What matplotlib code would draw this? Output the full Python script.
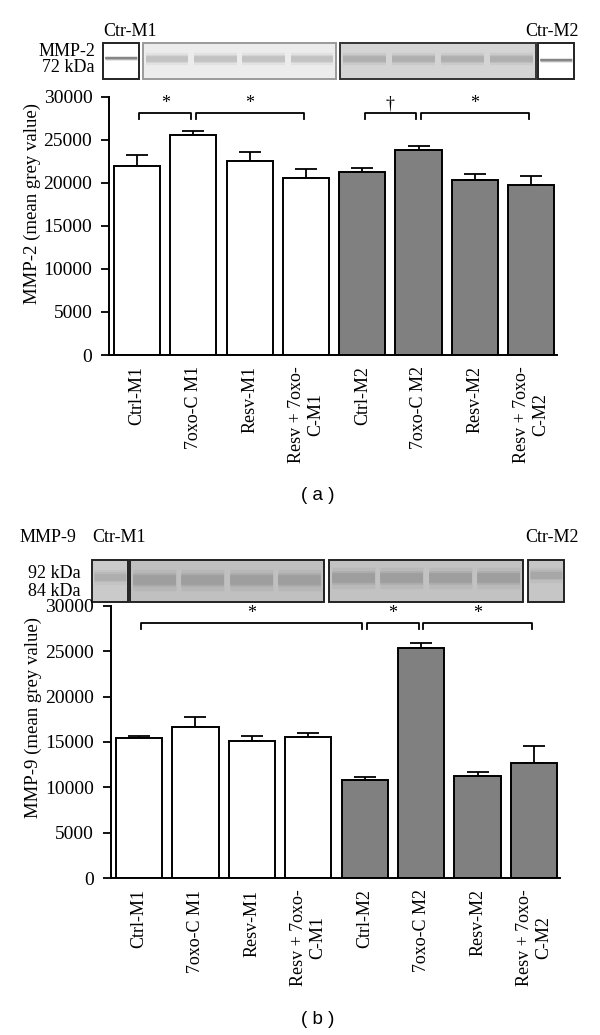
"""
MMP-2 / MMP-9 densitometry, two bar panels with blot strips on top
"""

import matplotlib
matplotlib.use('Agg')
import matplotlib.pyplot as plt
from matplotlib.patches import Rectangle

groups = ['Ctrl-M1', '7oxo-C M1', 'Resv-M1', 'Resv + 7oxo-\nC-M1',
          'Ctrl-M2', '7oxo-C M2', 'Resv-M2', 'Resv + 7oxo-\nC-M2']
mmp2 = [22000, 25600, 22500, 20500, 21300, 23800, 20300, 19700]
mmp2_err = [1200, 450, 1100, 1050, 450, 500, 700, 1100]
mmp9 = [15400, 16600, 15100, 15600, 10800, 25300, 11300, 12700]
mmp9_err = [300, 1100, 600, 370, 370, 550, 440, 1900]
sig_a = [(0, 1, '*'), (1, 3, '*'), (4, 5, '\u2020'), (5, 7, '*')]
sig_b = [(0, 4, '*'), (4, 5, '*'), (5, 7, '*')]

colors = ['white'] * 4 + ['#808080'] * 4
serif = 'Liberation Serif'
plt.rcParams['font.family'] = serif
plt.rcParams['font.size'] = 13

fig = plt.figure(figsize=(6, 10.35), dpi=100)

# overlay in pixel coords for the blot strips and their labels
ov = fig.add_axes([0, 0, 1, 1])
ov.set_xlim(0, 600)
ov.set_ylim(1035, 0)
ov.axis('off')


def blot(x0, x1, y0, y1, fill, edge, band_y, band_col, lanes, band_w):
    ov.add_patch(Rectangle((x0, y0), x1 - x0, y1 - y0, facecolor=fill,
                           edgecolor=edge, linewidth=1.4))
    step = (x1 - x0) / lanes
    for k in range(lanes):
        a = x0 + k * step + step * 0.06
        b = x0 + (k + 1) * step - step * 0.06
        for w, al in [(band_w * 2.2, 0.2), (band_w * 1.4, 0.35), (band_w, 0.6)]:
            ov.plot([a, b], [band_y, band_y], color=band_col, lw=w, alpha=al,
                    solid_capstyle='butt')


# panel (a) strip
blot(103, 139, 43, 79, 'white', '#222222', 58, '#666666', 1, 1.5)
blot(143, 336, 43, 79, '#ececec', '#9a9a9a', 59, '#b8b8b8', 4, 4)
blot(340, 536, 43, 79, '#d4d4d4', '#333333', 59, '#a6a6a6', 4, 4)
blot(538, 574, 43, 79, 'white', '#222222', 60, '#666666', 1, 1.5)
ov.text(95, 52, 'MMP-2', ha='right', va='center')
ov.text(95, 68, '72 kDa', ha='right', va='center')
ov.text(103, 32, 'Ctr-M1', ha='left', va='center')
ov.text(579, 32, 'Ctr-M2', ha='right', va='center')

# panel (b) strip
blot(92, 128, 560, 602, '#cacaca', '#222222', 577, '#a8a8a8', 1, 5)
blot(130, 324, 560, 602, '#c0c0c0', '#222222', 580, '#969696', 4, 7)
blot(329, 523, 560, 602, '#c2c2c2', '#222222', 578, '#969696', 4, 7)
blot(528, 564, 560, 602, '#c6c6c6', '#222222', 575, '#a0a0a0', 1, 5)
ov.text(76, 538, 'MMP-9', ha='right', va='center')
ov.text(92, 538, 'Ctr-M1', ha='left', va='center')
ov.text(81, 574, '92 kDa', ha='right', va='center')
ov.text(81, 592, '84 kDa', ha='right', va='center')
ov.text(579, 538, 'Ctr-M2', ha='right', va='center')


def panel(rect, vals, errs, sig, ylabel, label_xy, tag, tag_y):
    ax = fig.add_axes(rect)
    ax.set_facecolor('none')
    x = list(range(len(vals)))
    ax.errorbar(x, vals, yerr=[[0] * len(errs), errs], fmt='none',
                ecolor='black', elinewidth=1.3, capsize=8, capthick=1.3, zorder=1)
    ax.bar(x, vals, width=0.82, color=colors, edgecolor='black', linewidth=1.4, zorder=2)
    ax.set_xlim(-0.5, 7.46)
    ax.set_ylim(0, 30000)
    ax.set_yticks(range(0, 30001, 5000))
    ax.set_xticks(x)
    ax.set_xticklabels(groups, rotation=90, ha='center', va='top',
                       multialignment='center')
    ax.tick_params(axis='x', length=0, pad=8)
    ax.tick_params(axis='y', direction='out', length=6, width=1.3, pad=6,
                   labelsize=14)
    for s in ['top', 'right']:
        ax.spines[s].set_visible(False)
    for s in ['left', 'bottom']:
        ax.spines[s].set_linewidth(1.4)

    top, drop, g = 28100, 650, 0.04
    for a, b, mark in sig:
        ax.plot([a + g, a + g, b - g, b - g], [top - drop, top, top, top - drop],
                color='black', lw=1.3, clip_on=False)
        ax.text((a + b) / 2, top + 80, mark, ha='center', va='bottom',
                fontsize=13, clip_on=False)

    fig.text(label_xy[0] / 600, 1 - label_xy[1] / 1035, ylabel, rotation=90,
             ha='center', va='center', fontsize=13.5)
    fig.text(318 / 600, 1 - tag_y / 1035, '( %s )' % tag,
             ha='center', va='center', fontsize=13.5, family='Liberation Sans')
    return ax


panel([109 / 600, 1 - 355 / 1035, 448 / 600, 258.3 / 1035], mmp2, mmp2_err, sig_a,
      'MMP-2 (mean grey value)', (32, 204), 'a', 496)
panel([110.7 / 600, 1 - 878.3 / 1035, 449.3 / 600, 272.6 / 1035], mmp9, mmp9_err, sig_b,
      'MMP-9 (mean grey value)', (33, 717), 'b', 1020)

fig.savefig('out.png', dpi=100)
